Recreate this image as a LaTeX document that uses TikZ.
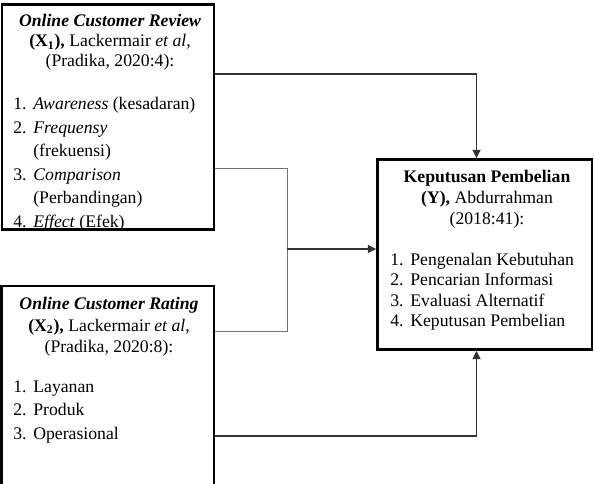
\documentclass[tikz,border=0pt]{standalone}
\usepackage{fontspec}
\setmainfont{Liberation Serif}
\usetikzlibrary{positioning,fit,arrows.meta}

\newcommand{\itm}[2]{\makebox[13.6pt][l]{#1}#2}

\begin{document}
\begin{tikzpicture}[x=0.678pt, y=-0.678pt, >={Triangle[length=5.5pt,width=5.5pt]},
    box/.style={draw, line width=2pt, inner sep=0pt},
    conn/.style={draw=black!80, line width=0.7pt},
    hd/.style={anchor=base, inner sep=0pt},
    li/.style={anchor=base west, inner sep=0pt},
    font=\fontsize{12}{13.8}\selectfont]
    \clip (0,0) rectangle (594,484);

    % the three boxes
    \node[box, fit={(2,4.5) (214,229.5)}] (rev) {};
    \node[box, fit={(1.5,286) (214,500)}] (rat) {};
    \node[box, fit={(377.5,159.5) (592,349.5)}] (dec) {};

    % X1
    \node[hd] (rev1) at (110,27) {\textbf{\textit{Online Customer Review}}};
    \node[hd] (rev2) at (110,47) {\textbf{(X\textsubscript{1}),} Lackermair \textit{et al},};
    \node[hd] (rev3) at (110,67) {(Pradika, 2020:4):};
    \begin{scope}
        \clip (3.5,6) rectangle (212.5,228);
        \foreach \t [count=\i] in {{\itm{1.}{\textit{Awareness} (kesadaran)}},
                {\itm{2.}{\textit{Frequensy}}}, {\itm{}{(frekuensi)}},
                {\itm{3.}{\textit{Comparison}}}, {\itm{}{(Perbandingan)}},
                {\itm{4.}{\textit{Effect} (Efek)}}}
            \node[li] (rev-l\i) at (13,{110+23.4*(\i-1)}) {\t};
    \end{scope}

    % X2
    \node[hd] (rat1) at (109,309) {\textbf{\textit{Online Customer Rating}}};
    \node[hd] (rat2) at (109,331) {\textbf{(X\textsubscript{2}),} Lackermair \textit{et al},};
    \node[hd] (rat3) at (109,352) {(Pradika, 2020:8):};
    \foreach \t [count=\i] in {{\itm{1.}{Layanan}}, {\itm{2.}{Produk}}, {\itm{3.}{Operasional}}}
        \node[li] (rat-l\i) at (13,{392+23.5*(\i-1)}) {\t};

    % Y
    \node[hd] (dec1) at (487,183) {\textbf{Keputusan Pembelian}};
    \node[hd] (dec2) at (487,203.5) {\textbf{(Y),} Abdurrahman};
    \node[hd] (dec3) at (487,224) {(2018:41):};
    \foreach \t [count=\i] in {{\itm{1.}{Pengenalan Kebutuhan}}, {\itm{2.}{Pencarian Informasi}},
            {\itm{3.}{Evaluasi Alternatif}}, {\itm{4.}{Keputusan Pembelian}}}
        \node[li] (dec-l\i) at (390,{265+20.6*(\i-1)}) {\t};

    % connectors
    \coordinate (k1) at (476.5,74);
    \coordinate (k2) at (476.5,436);
    \coordinate (br1) at (287,168);
    \coordinate (br2) at (287,331);
    \coordinate (brm) at (287,249);
    \draw[conn,->] (rev.east |- k1) -- (k1) -- (k1 |- dec.north);
    \draw[conn,->] (rat.east |- k2) -- (k2) -- (k2 |- dec.south);
    \draw[conn, draw=black!55, line width=0.6pt] (rev.east |- br1) -- (br1) -- (br2) -- (rat.east |- br2);
    \draw[conn,->] (brm) -- (dec.west |- brm);
\end{tikzpicture}
\end{document}
